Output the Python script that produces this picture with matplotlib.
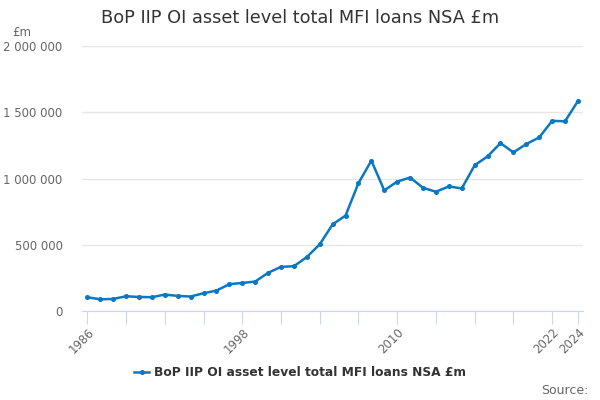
import matplotlib
matplotlib.use("Agg")
import matplotlib.pyplot as plt
from matplotlib.ticker import FuncFormatter

years = list(range(1986, 2025))
values = [104000, 88000, 91000, 111000, 106000, 104000, 124000, 114000, 109000, 134000,
          154000, 202000, 212000, 222000, 288000, 333000, 338000, 407000, 503000, 654000,
          720000, 965000, 1135000, 910000, 977000, 1007000, 930000, 900000, 940000, 925000,
          1100000, 1167000, 1267000, 1197000, 1260000, 1310000, 1435000, 1432000, 1585000]
tick_years = list(range(1986, 2023, 3)) + [2024]
label_years = [1986, 1998, 2010, 2022, 2024]
yticks = [0, 500000, 1000000, 1500000, 2000000]
series_name = "BoP IIP OI asset level total MFI loans NSA £m"

plt.rcParams['font.family'] = ['DejaVu Sans']
fig = plt.figure(figsize=(6, 4), dpi=100)
ax = fig.add_axes([82/600, 1-311/400, (583-82)/600, (311-46)/400])

color = "#0a78c2"
ax.plot(years, values, color=color, lw=1.8, marker='o', ms=2.6, label=series_name)

ax.set_xlim(1985.59, 2024.39)
ax.set_ylim(0, 2000000)
ax.set_yticks(yticks)
ax.yaxis.set_major_formatter(FuncFormatter(lambda v, p: f"{int(v):,}".replace(",", " ")))
ax.grid(axis='y', color='#e6e6e6', lw=1)
ax.set_axisbelow(True)
for s in ['top', 'right', 'left']:
    ax.spines[s].set_visible(False)
ax.spines['bottom'].set_color('#ccd6eb')
ax.tick_params(axis='y', length=0, labelsize=8.5, labelcolor='#666666', pad=14)
ax.set_xticks(tick_years)
ax.set_xticklabels([str(y) if y in label_years else "" for y in tick_years],
                   rotation=45, ha='right', rotation_mode='anchor')
ax.tick_params(axis='x', length=9, color='#ccd6eb', labelsize=8.5, labelcolor='#666666', pad=2)

fig.text(300/600, 1-18/400, series_name, ha='center', va='center', fontsize=12.8, color='#333333')
fig.text(12/600, 1-32/400, "£m", ha='left', va='center', fontsize=8.5, color='#666666')
fig.text(589/600, 1-390/400, "Source:", ha='right', va='center', fontsize=9, color='#666666')

leg = fig.legend(loc='center', bbox_to_anchor=(300/600, 1-373/400), frameon=False,
                 prop={'weight': 'bold', 'size': 8.8}, handlelength=1.3, handletextpad=0.4)
for t in leg.get_texts():
    t.set_color('#333333')

fig.savefig("out.png", dpi=100)
